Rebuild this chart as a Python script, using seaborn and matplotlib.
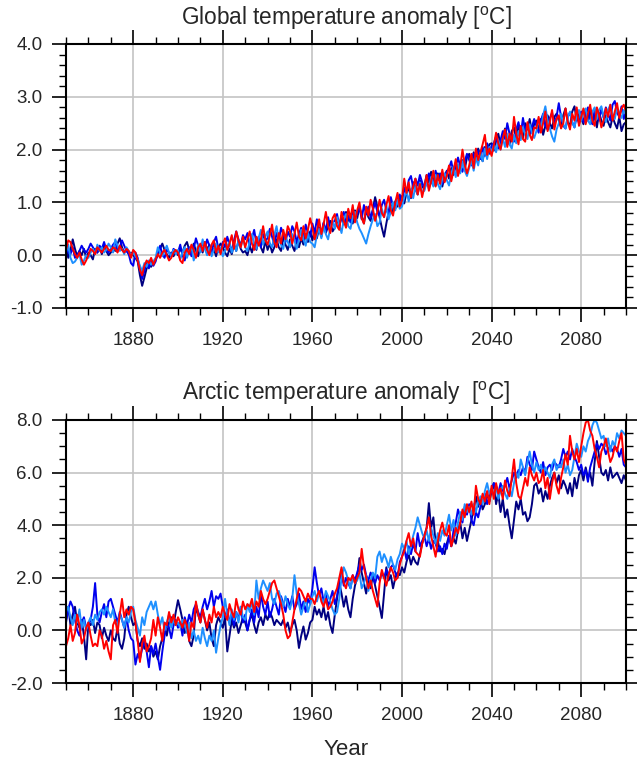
import numpy as np
import pandas as pd
import matplotlib
matplotlib.use("Agg")
import matplotlib.pyplot as plt
from matplotlib.ticker import MultipleLocator, FormatStrFormatter
import seaborn as sns

years = list(range(1850, 2101))
runs = ["navy", "blue", "lightblue", "red"]
run_colors = {"navy": "#000080", "blue": "#0000EE", "lightblue": "#1E90FF", "red": "#FF0000"}

# ---------------- Global temperature anomaly ----------------
glob_red = [
    0.10, 0.28, 0.25, 0.12, 0.02, -0.05, 0.05, -0.08, -0.18, -0.10,
    0.00, 0.12, 0.08, 0.02, 0.15, 0.10, 0.05, 0.12, 0.18, 0.10,
    0.08, 0.15, 0.12, 0.05, 0.18, 0.10, 0.05, 0.12, 0.08, -0.05,
    0.10, 0.05, -0.10, -0.28, -0.38, -0.20, -0.10, -0.15, -0.05, -0.18,
    -0.08, 0.02, -0.05, 0.05, 0.10, 0.00, -0.10, -0.05, 0.05, 0.10,
    0.05, -0.10, -0.15, 0.05, 0.12, 0.02, 0.20, 0.10, -0.05, 0.15,
    0.22, 0.08, 0.25, 0.10, 0.00, 0.20, 0.28, 0.05, 0.18, 0.02,
    0.20, 0.32, 0.10, 0.22, 0.38, 0.12, 0.45, 0.28, 0.15, 0.35,
    0.15, 0.30, 0.45, 0.22, 0.10, 0.35, 0.18, 0.30, 0.55, 0.28,
    0.20, 0.38, 0.58, 0.25, 0.15, 0.42, 0.22, 0.48, 0.30, 0.55,
    0.45, 0.22, 0.40, 0.62, 0.35, 0.28, 0.55, 0.32, 0.48, 0.70,
    0.52, 0.30, 0.45, 0.68, 0.40, 0.58, 0.82, 0.55, 0.42, 0.70,
    0.78, 0.55, 0.48, 0.82, 0.65, 0.52, 0.88, 0.70, 0.95, 0.62,
    0.85, 1.00, 0.70, 0.60, 0.92, 0.75, 1.05, 0.88, 0.65, 0.82,
    1.05, 0.80, 0.72, 0.95, 1.12, 0.85, 0.75, 1.00, 1.18, 0.92,
    1.05, 1.45, 1.18, 1.38, 1.10, 1.30, 1.45, 1.15, 1.35, 1.10,
    1.30, 1.52, 1.22, 1.40, 1.60, 1.30, 1.52, 1.35, 1.62, 1.38,
    1.50, 1.70, 1.40, 1.60, 1.82, 1.50, 1.68, 2.00, 1.72, 1.55,
    1.70, 1.92, 1.65, 2.02, 1.80, 1.95, 2.10, 2.28, 1.90, 2.02,
    1.88, 2.08, 2.32, 2.12, 2.00, 2.22, 2.38, 2.05, 2.30, 2.15,
    2.62, 2.30, 2.10, 2.45, 2.20, 2.15, 2.52, 2.28, 2.18, 2.42,
    2.40, 2.62, 2.32, 2.50, 2.72, 2.35, 2.52, 2.75, 2.38, 2.58,
    2.65, 2.40, 2.50, 2.78, 2.52, 2.38, 2.68, 2.55, 2.80, 2.45,
    2.62, 2.78, 2.48, 2.68, 2.85, 2.55, 2.45, 2.80, 2.65, 2.42,
    2.55, 2.78, 2.62, 2.85, 2.55, 2.72, 2.88, 2.60, 2.78, 2.85,
    2.72,
]
glob_lightblue = [
    0.05, 0.20, -0.05, -0.15, -0.12, -0.05, 0.02, -0.18, -0.10, 0.00,
    -0.05, 0.05, 0.12, 0.02, 0.20, 0.08, 0.15, 0.05, 0.10, 0.22,
    0.15, 0.05, 0.30, 0.18, 0.08, 0.12, 0.02, 0.15, 0.08, 0.00,
    0.05, -0.02, -0.08, -0.20, -0.30, -0.15, -0.22, -0.10, -0.18, -0.12,
    -0.05, 0.15, 0.05, -0.02, 0.08, 0.18, 0.05, -0.02, 0.10, 0.02,
    0.10, -0.08, 0.05, 0.15, -0.05, 0.08, 0.18, -0.10, 0.02, 0.20,
    0.05, 0.30, 0.12, 0.00, 0.15, -0.02, 0.10, 0.22, 0.05, 0.15,
    -0.02, 0.08, 0.18, 0.25, 0.05, 0.20, 0.08, 0.28, 0.15, 0.32,
    0.15, 0.08, 0.25, 0.40, 0.22, 0.12, 0.32, 0.48, 0.20, 0.35,
    0.45, 0.22, 0.15, 0.38, 0.55, 0.28, 0.20, 0.12, 0.35, 0.25,
    0.15, 0.40, 0.28, 0.12, 0.30, 0.48, 0.30, 0.18, 0.42, 0.25,
    0.22, 0.15, 0.38, 0.50, 0.32, 0.55, 0.40, 0.30, 0.52, 0.65,
    0.50, 0.72, 0.58, 0.42, 0.68, 0.78, 0.55, 0.50, 0.72, 0.82,
    0.62, 0.50, 0.42, 0.32, 0.22, 0.40, 0.55, 0.68, 0.78, 0.55,
    0.62, 0.88, 0.72, 0.95, 0.68, 0.82, 1.00, 0.85, 1.05, 0.88,
    0.92, 1.10, 1.22, 1.02, 1.25, 1.08, 1.32, 1.15, 1.38, 1.20,
    1.22, 1.40, 1.25, 1.48, 1.30, 1.52, 1.35, 1.25, 1.45, 1.55,
    1.42, 1.32, 1.55, 1.68, 1.48, 1.72, 1.55, 1.78, 1.60, 1.50,
    1.65, 1.80, 1.60, 1.85, 1.70, 1.95, 1.78, 2.02, 1.82, 2.05,
    1.92, 2.10, 1.95, 2.18, 2.00, 2.22, 2.05, 2.28, 2.10, 2.02,
    2.28, 2.12, 2.35, 2.18, 2.42, 2.28, 2.20, 2.48, 2.32, 2.22,
    2.35, 2.58, 2.38, 2.65, 2.82, 2.55, 2.40, 2.25, 2.15, 2.38,
    2.50, 2.68, 2.48, 2.40, 2.62, 2.72, 2.52, 2.42, 2.65, 2.75,
    2.55, 2.70, 2.78, 2.55, 2.48, 2.72, 2.80, 2.58, 2.75, 2.82,
    2.62, 2.52, 2.75, 2.85, 2.65, 2.58, 2.80, 2.68, 2.60, 2.75,
    2.68,
]
glob_blue = [
    0.22, 0.05, 0.02, 0.15, -0.05, 0.00, 0.08, 0.18, 0.10, 0.05,
    0.12, 0.22, 0.15, 0.08, 0.05, 0.18, 0.12, 0.25, 0.10, 0.05,
    0.12, 0.20, 0.25, 0.10, 0.15, 0.28, 0.18, 0.08, 0.02, -0.15,
    -0.20, 0.05, -0.05, -0.25, -0.45, -0.30, -0.15, -0.25, -0.10, -0.20,
    -0.12, 0.05, 0.18, 0.02, -0.05, 0.10, 0.05, -0.02, 0.12, 0.08,
    0.05, 0.20, 0.00, -0.10, 0.10, 0.15, -0.02, 0.12, 0.32, 0.18,
    0.10, 0.25, 0.12, 0.30, 0.18, 0.02, 0.25, 0.35, 0.12, 0.05,
    0.25, 0.15, 0.35, 0.20, 0.08, 0.28, 0.45, 0.30, 0.18, 0.38,
    0.30, 0.42, 0.18, 0.32, 0.48, 0.22, 0.35, 0.15, 0.40, 0.28,
    0.32, 0.50, 0.35, 0.20, 0.42, 0.28, 0.52, 0.40, 0.25, 0.45,
    0.35, 0.55, 0.45, 0.25, 0.40, 0.52, 0.32, 0.58, 0.42, 0.35,
    0.60, 0.42, 0.68, 0.48, 0.38, 0.62, 0.45, 0.72, 0.52, 0.62,
    0.65, 0.78, 0.55, 0.72, 0.82, 0.58, 0.75, 0.62, 0.85, 0.68,
    0.78, 0.92, 0.68, 0.95, 0.78, 0.92, 0.70, 0.85, 1.00, 0.82,
    0.75, 0.95, 1.05, 0.85, 0.78, 1.10, 0.92, 0.88, 1.05, 1.15,
    0.95, 1.28, 1.15, 1.42, 1.50, 1.28, 1.45, 1.32, 1.52, 1.38,
    1.25, 1.38, 1.55, 1.40, 1.32, 1.60, 1.42, 1.55, 1.35, 1.50,
    1.58, 1.65, 1.78, 1.55, 1.68, 1.85, 1.68, 1.58, 1.78, 1.92,
    1.80, 1.70, 1.92, 1.78, 1.98, 1.82, 2.05, 1.88, 2.12, 1.92,
    2.08, 2.12, 2.25, 2.02, 2.18, 2.35, 2.20, 2.50, 2.30, 2.25,
    2.15, 2.38, 2.52, 2.28, 2.60, 2.35, 2.48, 2.28, 2.42, 2.58,
    2.45, 2.32, 2.55, 2.68, 2.45, 2.38, 2.60, 2.70, 2.48, 2.62,
    2.88, 2.62, 2.45, 2.40, 2.62, 2.70, 2.52, 2.42, 2.65, 2.50,
    2.72, 2.52, 2.65, 2.80, 2.58, 2.48, 2.75, 2.68, 2.55, 2.78,
    2.60, 2.80, 2.68, 2.55, 2.85, 2.92, 2.70, 2.62, 2.82, 2.58,
    2.72,
]
glob_navy = [
    0.15, -0.05, 0.10, 0.30, 0.12, -0.02, 0.08, 0.00, 0.12, -0.05,
    0.05, 0.00, -0.08, 0.12, 0.05, 0.15, 0.02, 0.18, 0.08, 0.00,
    0.05, 0.15, 0.08, 0.22, 0.32, 0.15, 0.05, 0.10, 0.02, 0.05,
    0.00, -0.05, -0.12, -0.38, -0.58, -0.42, -0.25, -0.18, -0.22, -0.12,
    -0.08, 0.00, 0.12, 0.22, 0.10, 0.02, -0.05, 0.05, -0.02, 0.08,
    0.00, 0.12, 0.05, 0.18, 0.25, 0.10, 0.02, 0.22, 0.08, -0.02,
    0.18, 0.05, 0.25, 0.10, 0.20, 0.02, 0.12, -0.02, 0.15, 0.22,
    0.15, 0.05, -0.02, 0.12, 0.02, 0.20, 0.08, 0.28, 0.12, 0.05,
    0.08, 0.00, 0.18, 0.05, 0.22, 0.10, 0.32, 0.15, 0.05, 0.28,
    0.10, 0.22, 0.05, 0.15, 0.30, 0.15, 0.08, 0.35, 0.20, 0.10,
    0.30, 0.18, 0.08, 0.28, 0.15, 0.32, 0.20, 0.40, 0.25, 0.45,
    0.28, 0.48, 0.32, 0.52, 0.35, 0.60, 0.42, 0.55, 0.65, 0.45,
    0.52, 0.70, 0.55, 0.75, 0.58, 0.82, 0.65, 0.78, 0.60, 0.85,
    0.70, 0.92, 0.75, 0.60, 0.85, 0.72, 0.65, 0.88, 1.10, 0.92,
    0.72, 0.52, 0.35, 0.60, 0.82, 0.95, 0.82, 1.02, 0.92, 1.08,
    1.12, 0.98, 1.18, 1.28, 1.08, 1.38, 1.25, 1.15, 1.42, 1.28,
    1.32, 1.52, 1.38, 1.58, 1.42, 1.32, 1.55, 1.40, 1.30, 1.50,
    1.60, 1.45, 1.65, 1.52, 1.75, 1.58, 1.70, 1.80, 1.62, 1.85,
    1.92, 1.75, 1.95, 1.80, 2.02, 1.88, 1.78, 2.05, 1.92, 2.10,
    2.12, 1.98, 2.22, 2.30, 2.08, 2.25, 2.40, 2.25, 2.10, 2.35,
    2.42, 2.20, 2.45, 2.32, 2.22, 2.50, 2.38, 2.58, 2.32, 2.48,
    2.55, 2.38, 2.58, 2.28, 2.45, 2.65, 2.50, 2.40, 2.62, 2.68,
    2.55, 2.42, 2.65, 2.78, 2.52, 2.45, 2.72, 2.82, 2.55, 2.68,
    2.60, 2.48, 2.72, 2.55, 2.78, 2.50, 2.65, 2.42, 2.70, 2.55,
    2.45, 2.65, 2.52, 2.42, 2.62, 2.50, 2.40, 2.62, 2.35, 2.48,
    2.52,
]

# ---------------- Arctic temperature anomaly ----------------
arc_red = [
    -0.6, -0.3, 0.2, -0.4, -0.1, 0.6, 0.2, -0.5, -0.3, 0.1,
    0.3, -0.2, -0.6, -0.5, -0.6, 0.0, -0.2, -0.7, -0.4, -0.8,
    -1.1, 0.2, 0.4, -0.1, 0.6, 1.2, 0.5, 0.8, 0.6, 0.9,
    0.8, 0.3, -0.4, -1.2, -0.5, -0.2, -0.8, -0.6, -0.3, 0.4,
    -0.2, 0.5, 0.1, -0.4, 0.3, 0.2, 0.7, 0.3, 0.6, 0.2,
    0.5, 0.3, 0.1, 0.4, 0.2, -0.4, 0.3, 0.1, 1.1, 0.6,
    0.3, 0.8, 0.4, 0.1, 0.6, 0.3, 0.9, 0.5, 0.7, 0.5,
    0.9, 0.6, 0.4, 1.0, 0.7, 0.5, 1.2, 0.8, 0.6, 1.1,
    0.8, 1.0, 0.9, 1.2, 0.7, 1.1, 0.9, 1.5, 1.2, 1.0,
    1.2, 1.5, 1.8, 1.9, 1.6, 1.3, 1.0, 0.6, 0.0, -0.3,
    -0.2, 0.3, 0.8, 1.2, 1.6, 1.5, 1.3, 1.1, 1.4, 1.2,
    1.2, 1.0, 1.3, 1.5, 1.1, 0.9, 1.2, 0.8, 0.9, 1.1,
    1.4, 1.6, 2.0, 2.4, 1.8, 1.6, 2.0, 1.9, 2.1, 1.8,
    2.0, 2.2, 3.1, 2.4, 2.0, 1.6, 1.9, 1.5, 1.2, 0.9,
    1.8, 2.3, 2.0, 1.7, 2.1, 2.4, 2.2, 1.9, 2.0, 2.5,
    2.8, 3.0, 3.4, 3.7, 3.2, 3.5, 3.0, 2.9, 2.8, 3.3,
    3.6, 3.9, 4.3, 3.6, 3.2, 2.8, 3.4, 3.8, 4.1, 3.7,
    3.6, 4.0, 3.2, 3.5, 3.9, 3.7, 4.1, 4.6, 4.3, 4.8,
    4.5, 4.9, 4.4, 5.5, 5.0, 4.8, 5.2, 4.9, 5.3, 4.8,
    5.5, 5.0, 5.6, 5.2, 5.4, 5.0, 5.7, 5.3, 5.1, 5.8,
    6.5, 5.6, 5.1, 5.0, 5.4, 5.8, 5.5, 6.2, 5.9, 5.7,
    6.0, 5.6, 5.7, 6.1, 5.4, 5.8, 5.0, 5.6, 6.0, 5.5,
    5.2, 5.8, 6.2, 6.7, 6.3, 7.4, 6.8, 6.5, 6.9, 6.4,
    7.0, 7.5, 7.9, 8.0, 7.6, 7.4, 6.9, 6.6, 6.2, 6.8,
    7.0, 7.3, 6.8, 6.4, 6.6, 7.0, 6.8, 7.2, 7.5, 6.5,
    6.3,
]
arc_lightblue = [
    0.7, 0.9, 0.5, 0.2, 0.6, 0.3, 0.8, 0.1, 0.4, 0.0,
    0.3, 0.5, 0.2, 0.6, 0.4, 0.7, 0.8, 0.6, 0.9, 0.7,
    0.5, 0.8, 0.3, 0.2, 0.6, 0.4, 0.1, 0.5, 0.3, 0.7,
    0.9, 0.4, 0.1, -0.2, 0.5, 0.2, 0.7, 0.9, 1.1, 0.8,
    1.1, 0.6, 0.2, 0.5, 0.0, 0.3, 0.6, 0.1, 0.4, 0.2,
    0.3, 0.1, 0.4, 0.2, -0.1, 0.3, -0.3, 0.0, -0.4, -0.2,
    -0.5, 0.1, -0.3, -0.6, -0.2, -0.4, 0.0, -0.85, -0.3, 0.2,
    0.5, 1.2, 0.6, 0.2, 0.8, 0.4, 0.7, 0.3, 0.9, 0.5,
    0.4, 1.0, 0.7, 1.1, 0.6, 1.9, 1.2, 1.6, 1.9, 1.7,
    1.5, 1.8, 1.2, 1.0, 1.4, 1.5, 1.2, 0.9, 1.3, 1.0,
    0.8, 1.2, 2.1, 1.4, 1.0, 0.6, 0.9, 1.2, 0.7, 1.0,
    1.3, 1.5, 1.1, 1.4, 1.2, 1.0, 1.5, 1.3, 1.1, 0.8,
    0.6, 0.7, 1.2, 2.0, 2.4, 2.2, 1.9, 1.6, 2.0, 1.8,
    1.9, 2.2, 1.6, 1.8, 2.1, 1.5, 1.9, 2.2, 2.0, 2.8,
    3.0, 2.6, 2.9, 2.7, 2.4, 2.8, 2.5, 2.3, 2.7, 2.9,
    3.3, 3.1, 3.4, 2.9, 3.2, 3.6, 3.9, 4.3, 4.0, 3.7,
    3.5, 3.8, 3.4, 3.9, 3.6, 3.3, 3.7, 3.4, 3.8, 3.6,
    4.0, 4.4, 3.8, 4.2, 3.6, 4.1, 4.5, 4.2, 4.8, 4.5,
    4.7, 4.4, 4.8, 4.5, 4.9, 5.1, 4.8, 5.3, 5.6, 5.2,
    5.4, 5.1, 5.5, 5.0, 5.3, 5.5, 5.2, 5.0, 5.4, 5.1,
    5.6, 6.0, 5.8, 6.5, 6.2, 5.9, 6.4, 6.8, 6.3, 6.0,
    6.4, 6.1, 6.3, 5.9, 6.2, 6.0, 5.8, 6.3, 6.5, 6.1,
    6.3, 6.2, 6.5, 6.0, 6.3, 5.9, 6.1, 6.6, 7.1, 6.8,
    6.6, 7.0, 6.8, 7.2, 7.4, 7.8, 8.0, 7.9, 7.6, 7.3,
    7.4, 7.0, 7.3, 6.8, 7.2, 7.0, 7.5, 7.3, 7.6, 7.5,
    7.4,
]
arc_blue = [
    0.3, 0.8, 1.1, 0.9, 0.4, 0.0, -0.2, 0.3, 0.5, 0.1,
    0.2, 0.4, 0.9, 1.8, 0.6, 0.3, 0.7, 1.0, 0.5, 1.1,
    1.2, 0.9, 0.6, 0.3, 0.7, 0.4, 0.1, 0.5, 0.0, -0.3,
    -0.4, -1.3, -0.9, -1.1, -0.7, -0.4, -0.8, -1.4, -0.6, -0.9,
    -0.5, -1.0, -1.5, -0.8, -0.2, 0.3, 0.1, -0.3, 0.2, 0.4,
    0.1, 0.3, -0.2, 0.5, 0.2, 0.6, 0.3, 0.8, 1.0, 0.7,
    0.5, 0.9, 1.2, 0.8, 1.1, 1.5, 0.9, 1.3, 1.2, 1.4,
    0.9, 0.5, 0.8, 0.3, 0.6, 0.2, 0.7, 0.4, 0.9, 0.3,
    0.6, 0.0, 0.4, 0.8, 0.3, 0.9, 0.5, 1.4, 0.9, 0.6,
    1.1, 0.5, 0.8, 1.2, 0.9, 0.6, 1.3, 1.0, 0.7, 1.2,
    0.9, 1.3, 0.8, 1.0, 1.4, 0.8, 1.1, 0.7, 1.2, 1.0,
    1.6, 2.4, 1.8, 1.3, 1.6, 1.1, 1.4, 0.9, 1.2, 1.5,
    1.0, 1.3, 1.9, 2.2, 1.7, 2.0, 1.8, 1.6, 2.1, 1.9,
    2.2, 2.5, 2.3, 2.5, 2.1, 1.9, 2.2, 2.0, 1.8, 2.1,
    1.9, 2.2, 2.0, 2.3, 2.1, 2.4, 2.5, 2.2, 2.0, 2.6,
    2.8, 3.1, 2.7, 3.2, 2.9, 3.3, 3.0, 3.7, 3.2, 3.4,
    3.6, 3.2, 3.5, 3.1, 3.4, 3.3, 3.0, 3.2, 2.9, 3.3,
    3.1, 3.6, 3.2, 3.8, 4.1, 4.6, 4.3, 4.1, 4.7, 4.4,
    4.8, 4.2, 4.0, 4.5, 4.3, 4.7, 4.9, 5.2, 4.8, 5.1,
    5.3, 5.6, 5.4, 5.2, 5.6, 5.3, 5.5, 5.8, 5.4, 5.7,
    6.0, 5.8, 6.1, 5.9, 6.2, 6.0, 6.6, 6.3, 6.1, 6.8,
    6.5, 6.2, 6.0, 6.4, 5.9, 6.2, 6.3, 6.1, 6.4, 6.3,
    6.2, 6.5, 6.9, 6.6, 6.8, 6.5, 6.9, 6.6, 6.4, 6.1,
    6.3, 5.9, 6.1, 5.65, 6.2, 6.5, 6.8, 7.1, 6.9, 7.1,
    7.0, 6.7, 6.9, 7.0, 6.8, 7.0, 6.9, 6.6, 6.9, 6.3,
    6.2,
]
arc_navy = [
    0.4, 0.9, 0.2, 0.6, 0.9, 0.3, 0.1, 0.4, -0.2, -1.1,
    0.3, 0.2, 0.4, -0.1, 0.3, 0.2, -0.3, 0.1, -0.2, -0.4,
    0.0, -0.3, -0.4, 0.1, -0.5, -0.7, -0.3, 0.6, 0.9, 0.5,
    0.2, 0.3, -0.4, -0.6, -0.3, -0.7, -0.5, -0.8, -0.6, -1.0,
    -0.8, -1.1, -0.6, -0.3, 0.1, -0.2, 0.3, 0.5, 0.2, 0.7,
    1.15, 0.8, 0.4, -0.1, 0.3, -0.4, -0.6, -0.2, 0.9, 0.6,
    0.3, 0.8, 0.4, 0.0, 0.3, -0.3, -0.6, 0.2, 0.5, 0.3,
    0.1, 0.5, -0.8, -0.2, 0.4, 0.1, 0.3, -0.1, 0.2, 0.5,
    0.3, 0.0, 0.4, 0.6, 0.2, -0.1, 0.3, 0.5, 0.2, 0.6,
    0.4, 0.7, 0.5, 0.2, 0.4, 0.3, 0.2, 0.4, 0.1, 0.3,
    -0.1, 0.2, 0.4, 0.0, -0.67, -0.2, 0.15, -0.35, -0.1, 0.3,
    0.4, 0.9, 0.6, 0.8, 0.5, 0.9, 0.4, 0.7, 0.2, -0.1,
    0.6, 1.2, 1.8, 1.4, 0.9, 1.3, 0.8, 0.5, 1.2, 1.7,
    2.0, 2.75, 2.2, 1.8, 1.4, 1.9, 1.6, 2.1, 1.7, 1.3,
    0.9, 0.47, 1.4, 2.4, 1.9, 2.1, 1.6, 2.0, 2.2, 2.1,
    2.4, 2.2, 2.6, 2.9, 2.5, 2.8, 2.6, 2.5, 2.9, 3.3,
    3.6, 3.9, 4.84, 3.9, 4.3, 3.3, 3.4, 3.0, 3.1, 2.9,
    3.3, 3.6, 3.2, 3.5, 3.3, 3.8, 4.1, 3.5, 3.9, 3.4,
    3.8, 4.2, 4.6, 5.1, 4.7, 5.0, 4.6, 4.8, 5.2, 4.9,
    5.3, 5.6, 4.8, 5.2, 4.5, 5.0, 4.3, 4.6, 4.0, 3.5,
    4.2, 4.9, 4.6, 5.0, 4.4, 4.5, 4.15, 4.3, 4.8, 5.5,
    5.6, 5.2, 5.4, 4.9, 5.3, 5.0, 5.5, 5.8, 6.0, 5.6,
    5.9, 5.4, 5.7, 5.5, 5.2, 5.6, 5.1, 5.8, 5.4, 5.9,
    6.1, 5.7, 6.2, 5.8, 6.0, 5.5, 6.4, 7.2, 6.6, 6.0,
    5.9, 6.1, 5.7, 6.2, 5.8, 5.9, 6.0, 5.8, 5.6, 5.9,
    5.7,
]

global_series = {"navy": glob_navy, "blue": glob_blue, "lightblue": glob_lightblue, "red": glob_red}
arctic_series = {"navy": arc_navy, "blue": arc_blue, "lightblue": arc_lightblue, "red": arc_red}

for name, d in (("global", global_series), ("arctic", arctic_series)):
    for k, v in d.items():
        assert len(v) == len(years), f"{name} {k} has {len(v)} values"


def long_frame(series):
    rows = []
    for run in runs:
        for yr, val in zip(years, series[run]):
            rows.append((yr, val, run))
    return pd.DataFrame(rows, columns=["year", "anomaly", "run"])


sns.set_style("white")
plt.rcParams["font.family"] = ["Liberation Sans", "DejaVu Sans"]
plt.rcParams["axes.unicode_minus"] = False
plt.rcParams["mathtext.fontset"] = "custom"
plt.rcParams["mathtext.rm"] = "Liberation Sans"

fig = plt.figure(figsize=(6.37, 7.62), dpi=100)
W, H = 637, 762
ax1 = fig.add_axes([66 / W, 1 - 308 / H, 560 / W, 264 / H])
ax2 = fig.add_axes([66 / W, 1 - 683 / H, 560 / W, 263 / H])

panels = [
    (ax1, global_series, (-1.0, 4.0), 1.0, 0.2,
     "Global temperature anomaly [$\\mathrm{^o}$C]", 18),
    (ax2, arctic_series, (-2.0, 8.0), 2.0, 0.5,
     "Arctic temperature anomaly  [$\\mathrm{^o}$C]", 393),
]

for ax, series, ylim, ymaj, ymin, title, ty in panels:
    df = long_frame(series)
    sns.lineplot(data=df, x="year", y="anomaly", hue="run", hue_order=runs,
                 palette=run_colors, estimator=None, sort=False, legend=False,
                 linewidth=1.4, ax=ax)
    ax.set_xlim(1850, 2100)
    ax.set_ylim(*ylim)
    ax.set_xticks(list(range(1880, 2100, 40)))
    ax.xaxis.set_minor_locator(MultipleLocator(10))
    ax.yaxis.set_major_locator(MultipleLocator(ymaj))
    ax.yaxis.set_minor_locator(MultipleLocator(ymin))
    ax.yaxis.set_major_formatter(FormatStrFormatter("%.1f"))
    ax.grid(True, which="major", color="#c4c4c4", linewidth=1.2)
    ax.set_axisbelow(True)
    for sp in ax.spines.values():
        sp.set_visible(True)
        sp.set_color("black")
        sp.set_linewidth(1.5)
    ax.tick_params(which="both", direction="out", top=True, right=True,
                   bottom=True, left=True, labeltop=False, labelright=False,
                   color="black")
    ax.tick_params(which="major", length=10, width=1.2, labelsize=13.5, pad=7)
    ax.tick_params(which="minor", length=5, width=1.0)
    ax.set_xlabel("")
    ax.set_ylabel("")
    fig.text(346 / W, 1 - ty / H, title, ha="center", va="center", fontsize=16.3)

ax2.set_xlabel("Year", fontsize=16, labelpad=11)

fig.savefig("out.png", dpi=100)
